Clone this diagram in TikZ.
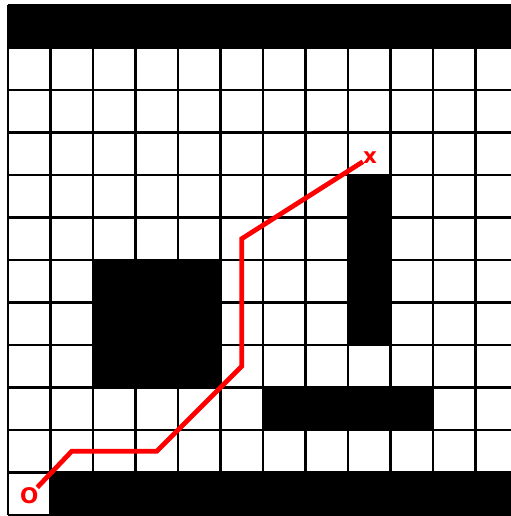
\documentclass[tikz,border=0pt]{standalone}
\usepackage{fontspec}
\setsansfont{DejaVu Sans}
\usetikzlibrary{positioning}
\definecolor{pathred}{RGB}{255, 0, 0}

\begin{document}
\begin{tikzpicture}[
        gridline/.style={line width=1.5pt, black},
        wall/.style={fill=black},
        plbl/.style={font=\sffamily\bfseries\Large, text=pathred, inner sep=0pt},
        route/.style={line width=3.2pt, pathred}
    ]
    \useasboundingbox (-0.188, -0.024) rectangle (11.835, 12.118);
    \clip (-0.188, -0.024) rectangle (11.835, 12.118);

    % === Grid ===
    \draw[gridline] (0, 0) grid (12, 12);

    % === Walls ===
    \fill[wall] (0, 11) rectangle (12, 12);
    \fill[wall] (1, 0) rectangle (12, 1);
    \fill[wall] (2, 3) rectangle (5, 6);
    \fill[wall] (8, 4) rectangle (9, 8);
    \fill[wall] (6, 2) rectangle (10, 3);

    % === Start and goal ===
    \node[plbl] (start) at (0.5, 0.45) {O};
    \node[plbl] (goal) at (8.52, 8.42) {x};

    \coordinate (p1) at (1.5, 1.5);
    \coordinate (p2) at (3.5, 1.5);
    \coordinate (p3) at (5.5, 3.5);
    \coordinate (p4) at (5.5, 6.5);

    % === Route ===
    \draw[route] (start) -- (p1) -- (p2) -- (p3) -- (p4) -- (goal);

\end{tikzpicture}
\end{document}
